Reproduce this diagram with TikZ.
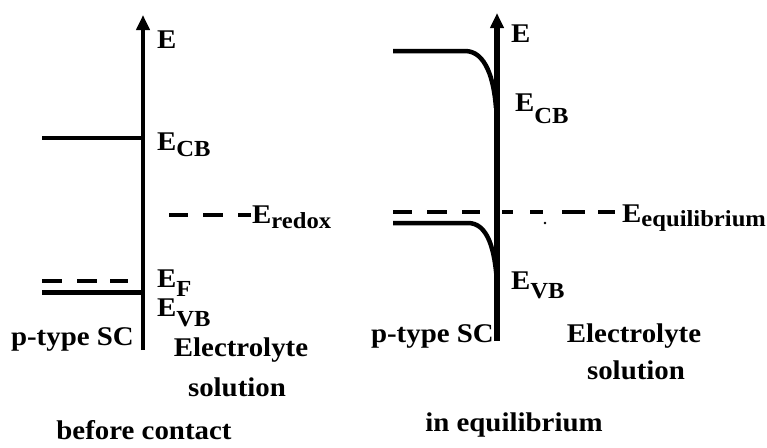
\documentclass[tikz,border=0pt]{standalone}
\usepackage{fontspec}
\setmainfont{Liberation Serif}[FakeStretch=1.07]
\usetikzlibrary{arrows.meta}
\newcommand\sbs[2][6pt]{\raisebox{-#1}{\fontsize{23}{23}\selectfont #2}}
\begin{document}
\begin{tikzpicture}[x=1pt,y=-1pt,
  lab/.style={inner sep=0pt,font=\bfseries\fontsize{27}{32}\selectfont},
  lvl/.style={line width=4.5pt},
  axisL/.style={line width=4pt,-{Triangle[length=15pt,width=13pt]}},
  axisR/.style={line width=5.5pt,-{Triangle[length=15pt,width=13pt]}}]
\useasboundingbox (0,0) rectangle (767,447);
% ---------- before contact ----------
\coordinate (aLb) at (143,350);
\coordinate (aLt) at (143,15);
\draw[axisL] (aLb) -- (aLt);
\draw[lvl] (42,138) -- (143,138);
\draw[lvl] (42,292.5) -- (143,292.5);
\foreach \a/\b in {42/62,77/97,110/128} \draw[lvl] (\a,281) -- (\b,281);
\foreach \a/\b in {169/188,203/223,238/251} \draw[lvl] (\a,215) -- (\b,215);
\node[lab,anchor=base west] (eL) at (157,48) {E};
\node[lab,anchor=base west] (ecbL) at (157,150) {E\sbs[6pt]{CB}};
\node[lab,anchor=base west] (eredox) at (252,223) {E\sbs[5pt]{redox}};
\node[lab,anchor=base west] (efL) at (157,287) {E\sbs[9pt]{F}};
\node[lab,anchor=base west] (evbL) at (157,316) {E\sbs[10pt]{VB}};
\node[lab,anchor=base east] (pL) at (134,345) {p-type SC};
\node[lab,anchor=base] (elL) at (241,356) {Electrolyte};
\node[lab,anchor=base] (soL) at (237,396) {solution};
\node[lab,anchor=base] (capL) at (144,439) {before contact};
% ---------- in equilibrium ----------
\coordinate (aRb) at (497,341);
\coordinate (aRt) at (497,13);
\draw[axisR] (aRb) -- (aRt);
\draw[lvl] (393,51) -- (465,51) .. controls (486,51) and (494,80) .. (496,108);
\draw[lvl] (393,223) -- (468,223) .. controls (488,223) and (495,250) .. (497,283);
\foreach \a/\b in {393/412,427/447,462/480,502/513,530/543,562/585,598/615}
  \draw[lvl] (\a,212) -- (\b,212);
\fill (545,223) circle (1.3);
\node[lab,anchor=base west] (eR) at (511,42) {E};
\node[lab,anchor=base west] (ecbR) at (515,111) {E\sbs[12pt]{CB}};
\node[lab,anchor=base west] (evbR) at (511,289) {E\sbs[9pt]{VB}};
\node[lab,anchor=base west] (eeq) at (622,222) {E\sbs[4pt]{equilibrium}};
\node[lab,anchor=base east] (pR) at (494,342) {p-type SC};
\node[lab,anchor=base] (elR) at (634,342) {Electrolyte};
\node[lab,anchor=base] (soR) at (636,379) {solution};
\node[lab,anchor=base] (capR) at (514,431) {in equilibrium};
\end{tikzpicture}
\end{document}
